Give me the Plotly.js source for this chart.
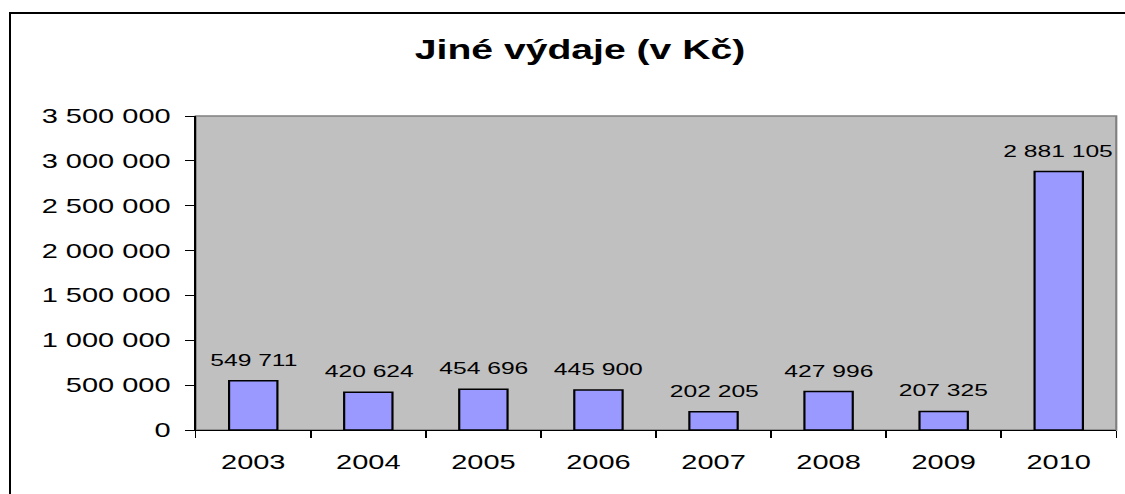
<!DOCTYPE html>
<html>
<head>
<meta charset="utf-8">
<script src="https://cdn.plot.ly/plotly-3.0.1.min.js"></script>
<style>
  html, body { margin: 0; padding: 0; background: #fff; overflow: hidden; width: 1125px; height: 494px; }
  #wrap { position: absolute; left: 0; top: 0; width: 1125px; height: 494px; overflow: hidden; }
  #chart { position: absolute; left: 0; top: 0; width: 776px; height: 494px; transform-origin: 0 0; transform: scaleX(1.4497); }
  #frame { position: absolute; left: 9px; top: 12px; width: 1300px; height: 700px; border: 2px solid #000; pointer-events: none; }
</style>
</head>
<body>
<div id="wrap">
  <div id="chart"></div>
  <div id="frame"></div>
</div>
<script>
const years = ['2003', '2004', '2005', '2006', '2007', '2008', '2009', '2010'];
const values = [549711, 420624, 454696, 445900, 202205, 427996, 207325, 2881105];
const chartTitle = 'Jiné výdaje (v Kč)';
const yTickVals = [0, 500000, 1000000, 1500000, 2000000, 2500000, 3000000, 3500000];

function fmt(v) { return String(v).replace(/\B(?=(\d{3})+(?!\d))/g, ' '); }

const font = 'Liberation Sans, Arial, sans-serif';

const trace = {
  type: 'bar',
  x: years,
  y: values,
  marker: { color: '#9999FF', line: { color: '#000000', width: 1.5 } },
  hoverinfo: 'skip'
};

const annotations = years.map((yr, i) => ({
  x: i, y: values[i], xref: 'x', yref: 'y',
  text: fmt(values[i]), showarrow: false,
  yanchor: 'bottom', xanchor: 'center', yshift: 9,
  font: { family: font, size: 17, color: '#000' }
}));

const layout = {
  width: 776, height: 494,
  margin: { l: 134.5, r: 6.2, t: 116, b: 64, pad: 0 },
  paper_bgcolor: '#ffffff',
  plot_bgcolor: '#C0C0C0',
  separators: ', ',
  showlegend: false,
  bargap: 0.58,
  title: {
    text: '<b>' + chartTitle + '</b>',
    font: { family: font, size: 27, color: '#000' },
    x: 0.5156, xref: 'container', xanchor: 'center',
    y: 0.899, yref: 'container', yanchor: 'middle'
  },
  xaxis: {
    type: 'category',
    categoryorder: 'array', categoryarray: years,
    range: [-0.5, years.length - 0.5],
    showline: true, linecolor: '#000', linewidth: 1.3,
    ticks: 'outside', tickson: 'boundaries', ticklen: 7, tickcolor: '#000', tickwidth: 1,
    showgrid: false, zeroline: false,
    tickfont: { family: font, size: 20, color: '#000' },
    ticklabelstandoff: 14
  },
  yaxis: {
    range: [0, 3500000],
    tickvals: yTickVals,
    tickformat: ',d',
    showline: true, linecolor: '#000', linewidth: 1.3,
    ticks: 'outside', ticklen: 6, tickcolor: '#000', tickwidth: 1,
    showgrid: false, zeroline: false,
    tickfont: { family: font, size: 20, color: '#000' },
    ticklabelstandoff: 6
  },
  shapes: [{
    type: 'rect', xref: 'x domain', yref: 'y domain', x0: 0, x1: 1, y0: 0, y1: 1,
    line: { color: '#808080', width: 1.5 }, layer: 'below'
  }],
  annotations: annotations
};

Plotly.newPlot('chart', [trace], layout, { staticPlot: true, displayModeBar: false });
</script>
</body>
</html>
